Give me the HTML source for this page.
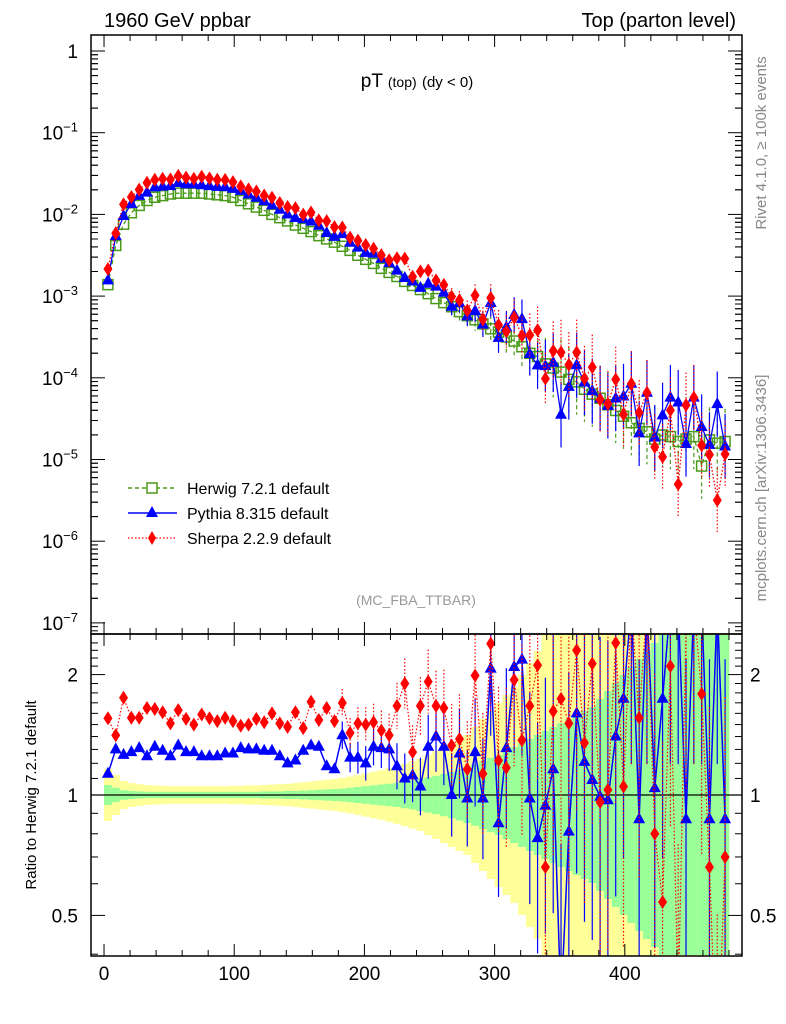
<!DOCTYPE html>
<html><head><meta charset="utf-8"><style>
html,body{margin:0;padding:0;background:#fff;width:786px;height:1024px;overflow:hidden;}
svg{display:block;font-family:"Liberation Sans",Arial,sans-serif;}
</style></head><body>
<svg id="chart" width="786" height="1024" viewBox="0 0 786 1024" xmlns="http://www.w3.org/2000/svg">
<defs>
<clipPath id="clipMain"><rect x="91" y="35" width="651" height="599"/></clipPath>
<clipPath id="clipRatio"><rect x="91" y="634" width="651" height="322"/></clipPath>
</defs>
<rect width="786" height="1024" fill="#fff"/>
<text x="104" y="27" font-size="20">1960 GeV ppbar</text>
<text x="736" y="27" font-size="20" text-anchor="end">Top (parton level)</text>
<text x="417" y="87" font-size="19" text-anchor="middle">pT <tspan font-size="14">(top)</tspan> <tspan font-size="15">(dy &lt; 0)</tspan></text>
<text x="416" y="605" font-size="14" fill="#999" text-anchor="middle">(MC_FBA_TTBAR)</text>
<text transform="translate(766,143) rotate(-90)" font-size="15" fill="#888" text-anchor="middle">Rivet 4.1.0, ≥ 100k events</text>
<text transform="translate(766,488) rotate(-90)" font-size="15" fill="#888" text-anchor="middle">mcplots.cern.ch [arXiv:1306.3436]</text>
<text transform="translate(36,795) rotate(-90)" font-size="15" text-anchor="middle">Ratio to Herwig 7.2.1 default</text>
<g id="bands" clip-path="url(#clipRatio)"></g>
<g id="ratioMarks" clip-path="url(#clipRatio)"></g>
<g id="mainMarks" clip-path="url(#clipMain)"></g>
<g id="axes"></g>
<g id="legend">
 <g>
  <line x1="128" y1="488" x2="177" y2="488" stroke="#4a9a1a" stroke-width="1.5" stroke-dasharray="4,3"/>
  <rect x="147" y="483" width="10" height="10" fill="#fff" stroke="#4a9a1a" stroke-width="1.5"/>
  <text x="187" y="494" font-size="16">Herwig 7.2.1 default</text>
 </g>
 <g>
  <line x1="128" y1="513" x2="177" y2="513" stroke="#00f" stroke-width="1.5"/>
  <polygon points="152,506 158,517 146,517" fill="#00f"/>
  <text x="187" y="519" font-size="16">Pythia 8.315 default</text>
 </g>
 <g>
  <line x1="128" y1="538" x2="177" y2="538" stroke="#f00" stroke-width="1.2" stroke-dasharray="1.5,2"/>
  <polygon points="152,531 156,538 152,545 148,538" fill="#f00"/>
  <text x="187" y="544" font-size="16">Sherpa 2.2.9 default</text>
 </g>
</g>
</svg>
<script>
// ---- data ----
const binLow = 0, binWidth = 6, nBins = 80;
const herwigLog10 = [-2.86,-2.38,-2.12,-1.98,-1.89,-1.83,-1.79,-1.77,-1.75,-1.74,-1.74,-1.74,-1.74,-1.75,-1.76,-1.77,-1.79,
 -1.83,-1.87,-1.91,-1.95,-2.00,-2.04,-2.08,-2.13,-2.17,-2.21,-2.26,-2.30,-2.34,-2.39,
 -2.44,-2.50,-2.55,-2.60,-2.66,-2.71,-2.76,-2.82,-2.87,-2.92,-2.97,-3.03,-3.08,-3.13,-3.19,-3.24,-3.29,-3.34,-3.40,
 -3.44,-3.50,-3.55,-3.62,-3.70,-3.74,-3.83,-3.88,-3.93,-4.02,-4.05,-4.14,-4.20,-4.25,-4.33,-4.40,-4.47,
 -4.55,-4.62,-4.66,-4.75,-4.70,-4.72,-4.78,-4.75,-4.72,-5.08,-4.76,-4.80,-4.78];
const pythiaRatio = [1.13,1.30,1.26,1.28,1.31,1.25,1.32,1.29,1.25,1.33,1.28,1.28,1.25,1.25,1.25,1.27,1.27,1.31,1.30,1.30,
 1.29,1.29,1.25,1.20,1.22,1.29,1.33,1.32,1.18,1.16,1.41,1.24,1.24,1.20,1.32,1.31,1.30,1.18,1.10,1.12,
 1.05,1.32,1.40,1.32,1.00,1.27,0.98,1.28,0.98,2.07,0.85,1.31,2.09,2.18,0.98,0.78,0.94,1.16,0.30,0.81,
 1.60,1.21,1.09,0.99,0.97,1.40,1.74,3.0,0.87,3.0,1.04,1.74,3.0,3.0,0.87,3.0,3.0,0.87,3.0,0.87];
const sherpaRatio = [1.555,1.41,1.75,1.56,1.56,1.65,1.64,1.61,1.51,1.63,1.55,1.50,1.59,1.555,1.53,1.56,1.53,1.49,1.50,1.55,
 1.52,1.60,1.51,1.48,1.61,1.47,1.71,1.54,1.65,1.53,1.70,1.43,1.51,1.50,1.52,1.45,1.41,1.67,1.90,1.28,
 1.67,1.92,1.67,1.65,1.33,1.38,1.16,1.99,1.13,2.39,1.22,1.17,1.94,1.37,1.67,2.11,0.66,1.62,1.74,1.51,
 2.3,1.35,2.13,0.96,1.03,2.4,1.05,3.0,1.56,3.0,0.80,0.54,2.10,0.3,2.6,3.0,1.79,0.66,0.2,0.7];
// relative uncertainty (log10 half-widths) of reference: inner (green) and outer (yellow) bands
const greenBand = [0.025,0.018,0.012,0.01,0.009,0.008,0.008,0.008,0.008,0.008,0.008,0.008,0.008,0.008,0.008,0.008,0.008,0.008,0.008,0.008,
 0.009,0.009,0.009,0.01,0.01,0.011,0.012,0.013,0.014,0.015,0.016,0.018,0.02,0.022,0.024,0.026,0.028,0.03,0.033,0.036,
 0.04,0.044,0.048,0.053,0.058,0.064,0.07,0.077,0.085,0.093,0.1,0.11,0.12,0.13,0.14,0.15,0.16,0.17,0.18,0.19,
 0.2,0.21,0.22,0.24,0.26,0.28,0.3,0.32,0.34,0.36,0.38,0.4,0.4,0.4,0.4,0.4,0.4,0.4,0.4,0.4];
const yellowBand = [0.065,0.05,0.035,0.03,0.027,0.025,0.024,0.023,0.022,0.022,0.022,0.022,0.022,0.022,0.022,0.022,0.023,0.023,0.024,0.024,
 0.025,0.026,0.027,0.028,0.03,0.032,0.034,0.036,0.038,0.04,0.043,0.046,0.05,0.054,0.058,0.062,0.067,0.072,0.078,0.084,
 0.09,0.1,0.11,0.12,0.13,0.14,0.15,0.17,0.19,0.21,0.23,0.25,0.27,0.3,0.33,0.36,0.4,0.45,0.5,0.5,
 0.5,0.5,0.5,0.5,0.5,0.5,0.5,0.5,0.5,0.5,0.5,0.5,0.5,0.5,0.5,0.5,0.5,0.5,0.5,0.5];
const xTicks = [0,100,200,300,400];
const mainYTicks = [0,-1,-2,-3,-4,-5,-6,-7];
const ratioTicks = [0.5,1,2];

// ---- geometry ----
const L=91,R=742,T=35,MB=634,RB=956;
const XMIN=-10,XMAX=490;
const sx = v => L + (v-XMIN)/(XMAX-XMIN)*(R-L);
const YTOP=0.196,YBOT=-7.136;
const sy = lg => T + (YTOP-lg)/(YTOP-YBOT)*(MB-T);
const RT=0.4025,RBm=-0.4025;
const sr = r => MB + (RT-Math.log10(r))/(RT-RBm)*(RB-MB);
const NS='http://www.w3.org/2000/svg';
function mk(tag, attrs, parent){const e=document.createElementNS(NS,tag);for(const k in attrs)e.setAttribute(k,attrs[k]);parent.appendChild(e);return e;}
const gB=document.getElementById('bands'), gR=document.getElementById('ratioMarks'), gM=document.getElementById('mainMarks'), gA=document.getElementById('axes');

// bands
for(let i=0;i<nBins;i++){
  const x0=sx(binLow+i*binWidth), x1=sx(binLow+(i+1)*binWidth);
  const y1=mk('rect',{x:x0,y:sr(Math.pow(10,yellowBand[i])),width:x1-x0+0.3,height:sr(Math.pow(10,-yellowBand[i]))-sr(Math.pow(10,yellowBand[i])),fill:'#ffff99'},gB);
  
  
  const g1=mk('rect',{x:x0,y:sr(Math.pow(10,greenBand[i])),width:x1-x0+0.3,height:sr(Math.pow(10,-greenBand[i]))-sr(Math.pow(10,greenBand[i])),fill:'#99ff99'},gB);
  
  
}
const unity=mk('line',{x1:L,x2:R,y1:sr(1),y2:sr(1),stroke:'#000','stroke-width':1.3},gR);



const centers = herwigLog10.map((_,i)=>binLow+(i+0.5)*binWidth);
function tri(x,y,col,parent){const p=mk('polygon',{points:`${x},${y-7} ${x+6},${y+4} ${x-6},${y+4}`,fill:col},parent);return p;}
function dia(x,y,col,parent){const p=mk('polygon',{points:`${x},${y-7} ${x+4.5},${y} ${x},${y+7} ${x-4.5},${y}`,fill:col},parent);return p;}
function errW(i,start){return i<start?0:yellowBand[i]*0.8;}

// ratio panel series
function ratioSeries(arr,col,dash,marker,name){
  const pts=centers.map((c,i)=>`${sx(c)},${sr(arr[i])}`).join(' ');
  const pl=mk('polyline',{points:pts,fill:'none',stroke:col,'stroke-width':marker==='tri'?1.5:1.2,'stroke-dasharray':dash},gR);
  
  
  arr.forEach((r,i)=>{
    const x=sx(centers[i]), e=errW(i,30);
    if(e>0){
      const el=mk('line',{x1:x,x2:x,y1:sr(r*Math.pow(10,e)),y2:sr(r*Math.pow(10,-e)),stroke:col,'stroke-width':1.2,'stroke-dasharray':dash},gR);
      
      
    }
    const m = marker==='tri'?tri(x,sr(r),col,gR):dia(x,sr(r),col,gR);
    
    
  });
}
ratioSeries(pythiaRatio,'#00f','none','tri','pythia');
ratioSeries(sherpaRatio,'#f00','1.5,2','dia','sherpa');

// main panel
function mainSeries(lg,col,dash,marker,name){
  const pts=centers.map((c,i)=>`${sx(c)},${sy(lg[i])}`).join(' ');
  const pl=mk('polyline',{points:pts,fill:'none',stroke:col,'stroke-width':1.3,'stroke-dasharray':dash},gM);
  
  
  lg.forEach((v,i)=>{
    const x=sx(centers[i]), y=sy(v), e=errW(i,44);
    if(e>0){
      const el=mk('line',{x1:x,x2:x,y1:sy(v+e),y2:sy(v-e),stroke:col,'stroke-width':1.2,'stroke-dasharray':dash},gM);
      
      
    }
    let m;
    if(marker==='sq') m=mk('rect',{x:x-5,y:y-5,width:10,height:10,fill:'none',stroke:col,'stroke-width':1.5},gM);
    else if(marker==='tri') m=tri(x,y,col,gM);
    else m=dia(x,y,col,gM);
    
    
  });
}
const pythiaLog=herwigLog10.map((h,i)=>h+Math.log10(pythiaRatio[i]));
const sherpaLog=herwigLog10.map((h,i)=>h+Math.log10(sherpaRatio[i]));
mainSeries(herwigLog10,'#4a9a1a','4,3','sq','herwig');
mainSeries(pythiaLog,'#00f','none','tri','pythia');
mainSeries(sherpaLog,'#f00','1.5,2','dia','sherpa');

// axes frames
[[T,MB],[MB,RB]].forEach(([a,b],k)=>{
  const f=mk('rect',{x:L,y:a,width:R-L,height:b-a,fill:'none',stroke:'#000','stroke-width':1.5},gA);
  
  
});
// x ticks
for(let v=0;v<=480;v+=20){
  const major = v%100===0, len = major?12:6, x=sx(v);
  [[T,1],[MB,-1],[MB,1],[RB,-1]].forEach(([y,d])=>{mk('line',{x1:x,x2:x,y1:y,y2:y+d*len,stroke:'#000','stroke-width':1},gA);});
}
xTicks.forEach(v=>{
  const t=mk('text',{x:sx(v),y:980,'font-size':19,'text-anchor':'middle'},gA);
  t.textContent=v;
  
  
});
// main y ticks
mainYTicks.forEach(d=>{
  const y=sy(d);
  mk('line',{x1:L,x2:L+14,y1:y,y2:y,stroke:'#000'},gA);
  mk('line',{x1:R,x2:R-14,y1:y,y2:y,stroke:'#000'},gA);
  for(let m=2;m<=9;m++){
    const ym=sy(d-1+Math.log10(m));
    if(ym>MB||ym<T) continue;
    mk('line',{x1:L,x2:L+7,y1:ym,y2:ym,stroke:'#000'},gA);
    mk('line',{x1:R,x2:R-7,y1:ym,y2:ym,stroke:'#000'},gA);
  }
  for(let m=2;m<=9;m++){const ym=sy(d+Math.log10(m)); if(ym>=T){mk('line',{x1:L,x2:L+7,y1:ym,y2:ym,stroke:'#000'},gA);mk('line',{x1:R,x2:R-7,y1:ym,y2:ym,stroke:'#000'},gA);}}
  const t=mk('text',{x:78,y:y+7,'font-size':19,'text-anchor':'end'},gA);
  
  
  if(d===0){t.textContent='1';}
  else{t.textContent='10';const s=mk('tspan',{dy:-8,'font-size':13},t);s.textContent='\u2212'+(-d);}
});
// ratio ticks
for(let r=0.4;r<=2.5;r+=0.1){
  const rr=Math.round(r*10)/10, y=sr(rr);
  if(y<MB||y>RB) continue;
  const major=[0.5,1,2].includes(rr), len=major?14:7;
  mk('line',{x1:L,x2:L+len,y1:y,y2:y,stroke:'#000'},gA);
  mk('line',{x1:R,x2:R-len,y1:y,y2:y,stroke:'#000'},gA);
}
ratioTicks.forEach(r=>{
  [[78,'end'],[750,'start']].forEach(([x,a])=>{
    const t=mk('text',{x:x,y:sr(r)+7,'font-size':19,'text-anchor':a},gA);
    t.textContent=r;
    
    
  });
});
</script>
</body></html>
